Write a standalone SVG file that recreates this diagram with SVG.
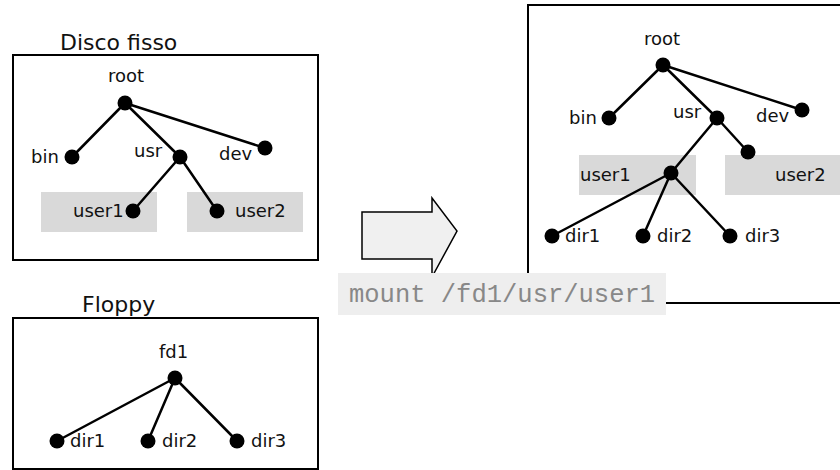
<svg xmlns="http://www.w3.org/2000/svg" width="840" height="470" viewBox="0 0 840 470">
<style>
.box{fill:#fff;stroke:#000;stroke-width:2}
.hl{fill:#d9d9d9}
.lbl{font-family:"DejaVu Sans",Verdana,sans-serif;font-size:18px;fill:#111}
.ttl{font-family:"DejaVu Sans",Verdana,sans-serif;font-size:22px;fill:#111}
.dot{fill:#000}
.edge{stroke:#000;stroke-width:2.5;fill:none}
</style>
<rect width="840" height="470" fill="#fff"/>
<g id="disco">
<text class="ttl" x="60" y="50">Disco fisso</text>
<rect class="box" x="13" y="55" width="305" height="205"/>
<rect class="hl" x="41" y="192" width="116" height="40"/>
<rect class="hl" x="187" y="192" width="116" height="40"/>
</g>
<g id="floppy">
<text class="ttl" x="82" y="312">Floppy</text>
<rect class="box" x="13" y="318" width="305" height="151"/>
</g>
<g id="mounted">
<rect class="box" x="528" y="5" width="320" height="298"/>
<rect class="hl" x="579" y="155" width="117" height="40"/>
<rect class="hl" x="725" y="155" width="120" height="40"/>
</g>
<g id="connectors">
<path class="edge" d="M125,103 L72,157 M125,103 L180,157 M125,103 L265,148 M180,157 L133,211 M180,157 L217,211"/>
<path class="edge" d="M175,378 L57,441 M175,378 L148,441 M175,378 L237,441"/>
<path class="edge" d="M663,65 L609,118 M663,65 L717,118 M663,65 L802,110 M717,118 L671,173 M717,118 L748,152 M671,173 L552,236 M671,173 L643,236 M671,173 L730,236"/>
</g>
<g id="n-root1"><circle class="dot" cx="125" cy="103" r="7.5"/><text class="lbl" x="108" y="82">root</text></g>
<g id="n-bin1"><circle class="dot" cx="72" cy="157" r="7.5"/><text class="lbl" x="31" y="163">bin</text></g>
<g id="n-usr1"><circle class="dot" cx="180" cy="157" r="7.5"/><text class="lbl" x="134" y="157">usr</text></g>
<g id="n-dev1"><circle class="dot" cx="265" cy="148" r="7.5"/><text class="lbl" x="219" y="160">dev</text></g>
<g id="n-user1a"><circle class="dot" cx="133" cy="211" r="7.5"/><text class="lbl" x="73" y="217">user1</text></g>
<g id="n-user2a"><circle class="dot" cx="217" cy="211" r="7.5"/><text class="lbl" x="235" y="217">user2</text></g>
<g id="n-fd1"><circle class="dot" cx="175" cy="378" r="7.5"/><text class="lbl" x="159" y="358">fd1</text></g>
<g id="n-fdir1"><circle class="dot" cx="57" cy="441" r="7.5"/><text class="lbl" x="70" y="447">dir1</text></g>
<g id="n-fdir2"><circle class="dot" cx="148" cy="441" r="7.5"/><text class="lbl" x="162" y="447">dir2</text></g>
<g id="n-fdir3"><circle class="dot" cx="237" cy="441" r="7.5"/><text class="lbl" x="251" y="447">dir3</text></g>
<g id="n-root2"><circle class="dot" cx="663" cy="65" r="7.5"/><text class="lbl" x="644" y="45">root</text></g>
<g id="n-bin2"><circle class="dot" cx="609" cy="118" r="7.5"/><text class="lbl" x="569" y="124">bin</text></g>
<g id="n-usr2"><circle class="dot" cx="717" cy="118" r="7.5"/><text class="lbl" x="673" y="118">usr</text></g>
<g id="n-dev2"><circle class="dot" cx="802" cy="110" r="7.5"/><text class="lbl" x="756" y="122">dev</text></g>
<g id="n-user1b"><circle class="dot" cx="671" cy="173" r="7.5"/><text class="lbl" x="580" y="181">user1</text></g>
<g id="n-user2b"><circle class="dot" cx="748" cy="152" r="7.5"/><text class="lbl" x="775" y="181">user2</text></g>
<g id="n-dir1"><circle class="dot" cx="552" cy="236" r="7.5"/><text class="lbl" x="565" y="242">dir1</text></g>
<g id="n-dir2"><circle class="dot" cx="643" cy="236" r="7.5"/><text class="lbl" x="657" y="242">dir2</text></g>
<g id="n-dir3"><circle class="dot" cx="730" cy="236" r="7.5"/><text class="lbl" x="745" y="242">dir3</text></g>
<g id="arrow">
<path d="M362,212 L432,212 L432,198 L457,231 L432,277 L432,259 L362,259 Z" fill="#f0f0f0" stroke="#000" stroke-width="1.5"/>
</g>
<g id="command">
<rect x="338" y="273" width="328" height="42" fill="#eeeeee"/>
<text x="349" y="302" font-family="'Liberation Mono','Courier New',monospace" font-size="25.5" fill="#888">mount /fd1/usr/user1</text>
</g>
</svg>
